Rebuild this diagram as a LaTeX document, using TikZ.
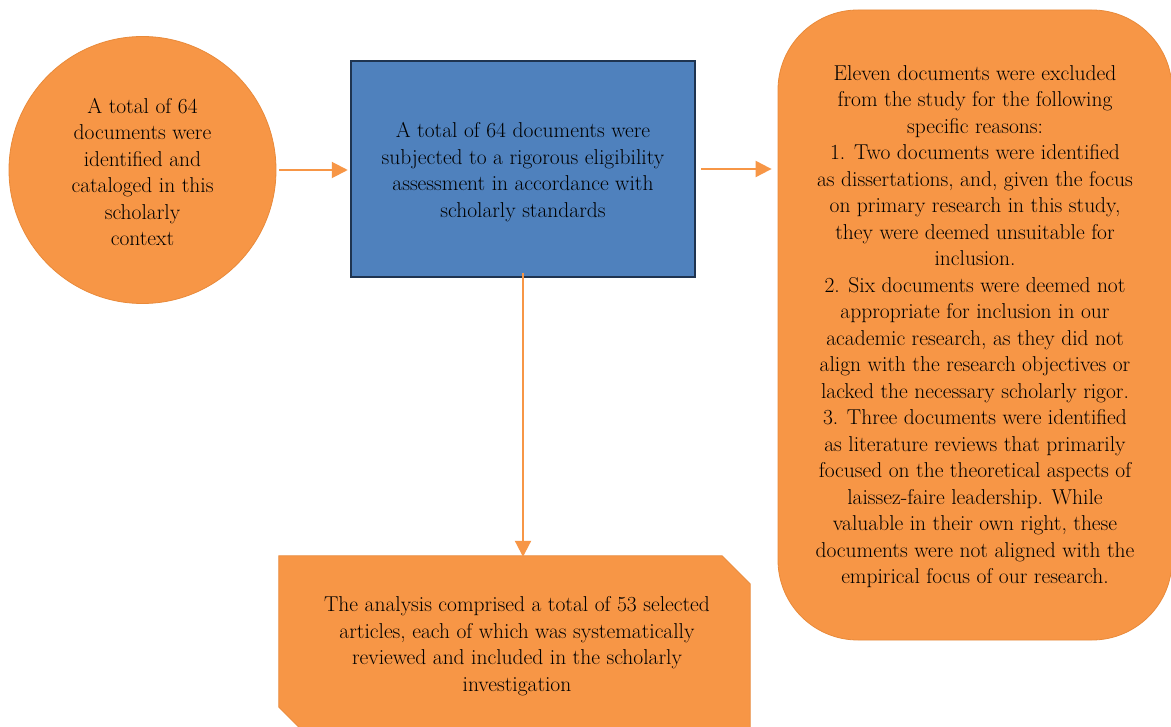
\documentclass[tikz,border=0pt]{standalone}
\usetikzlibrary{arrows.meta}

\definecolor{boxorange}{HTML}{F79646}
\definecolor{edgeorange}{HTML}{E98A3A}
\definecolor{boxblue}{HTML}{4F81BD}
\definecolor{edgeblue}{HTML}{1F3450}

\tikzset{
  txt/.style={font=\fontsize{21.5}{26.5}\selectfont, align=center, text=black},
  orangebox/.style={txt, fill=boxorange, draw=edgeorange, line width=0.8pt, inner sep=0pt},
  flow/.style={-{Triangle[length=16pt,width=16pt]}, line width=2pt, draw=boxorange}
}

\begin{document}
\begin{tikzpicture}[x=1pt, y=-1pt]

  % Page frame
  \clip (0,0) rectangle (1171,727);
  \fill[white] (0,0) rectangle (1171,727);

  % Identified documents
  \node[orangebox, circle, minimum size=267pt] (ident) at (142.5,170) {};
  \node[txt] at (142.5,172) {A total of 64\\documents were\\identified and\\cataloged in this\\scholarly\\context};

  % Eligibility assessment
  \node[txt, rectangle, fill=boxblue, draw=edgeblue, line width=2.5pt,
        minimum width=344pt, minimum height=216pt, inner sep=0pt] (assess) at (523,169) {};
  \node[txt] at (523,172) {A total of 64 documents were\\subjected to a rigorous eligibility\\assessment in accordance with\\scholarly standards};

  % Excluded documents
  \node[orangebox, rectangle, rounded corners=80pt,
        minimum width=394pt, minimum height=630pt] (excl) at (975,325) {};
  \node[txt] at (975,326.5) {Eleven documents were excluded\\from the study for the following\\specific reasons:\\1. Two documents were identified\\as dissertations, and, given the focus\\on primary research in this study,\\they were deemed unsuitable for\\inclusion.\\2. Six documents were deemed not\\appropriate for inclusion in our\\academic research, as they did not\\align with the research objectives or\\lacked the necessary scholarly rigor.\\3. Three documents were identified\\as literature reviews that primarily\\focused on the theoretical aspects of\\laissez-faire leadership. While\\valuable in their own right, these\\documents were not aligned with the\\empirical focus of our research.};

  % Selected articles (snipped corners)
  \node[minimum width=471pt, minimum height=179pt, inner sep=0pt] (selected) at (514.5,645.5) {};
  \draw[fill=boxorange, draw=edgeorange, line width=0.8pt]
    (selected.north west) -- ([xshift=-28pt]selected.north east)
    -- ([yshift=-28pt]selected.north east) -- (selected.south east)
    -- ([xshift=28pt]selected.south west) -- ([yshift=28pt]selected.south west) -- cycle;
  \node[txt] at (517,646) {The analysis comprised a total of 53 selected\\articles, each of which was systematically\\reviewed and included in the scholarly\\investigation};

  % Arrows
  \coordinate (a1) at (ident.east);
  \coordinate (a2) at (assess.east);
  \draw[flow] ([xshift=3pt]a1) -- ([xshift=-2pt]a1 -| assess.west);
  \draw[flow] ([xshift=5pt]a2) -- ([xshift=-6pt]a2 -| excl.west);
  \draw[flow] ([yshift=5pt]assess.south) -- ([yshift=-1pt]assess.south |- selected.north);

\end{tikzpicture}
\end{document}
